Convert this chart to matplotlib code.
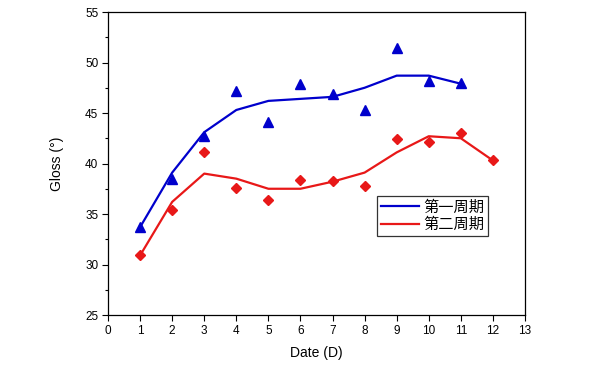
import matplotlib.pyplot as plt
from matplotlib.ticker import MultipleLocator

plt.rcParams['font.family'] = ['Liberation Sans', 'Noto Sans CJK SC', 'DejaVu Sans']

# data
days1 = [1, 2, 3, 4, 5, 6, 7, 8, 9, 10, 11]
gloss1 = [33.7, 38.5, 42.7, 47.2, 44.1, 47.9, 46.9, 45.3, 51.4, 48.2, 48.0]
fit1 = [33.7, 39.1, 43.1, 45.3, 46.2, 46.4, 46.6, 47.5, 48.7, 48.7, 47.9]

days2 = [1, 2, 3, 4, 5, 6, 7, 8, 9, 10, 11, 12]
gloss2 = [30.9, 35.4, 41.1, 37.6, 36.4, 38.4, 38.3, 37.8, 42.4, 42.1, 43.0, 40.3]
fit2 = [30.9, 36.2, 39.0, 38.5, 37.5, 37.5, 38.2, 39.1, 41.1, 42.7, 42.5, 40.3]

labels = ['第一周期', '第二周期']
blue = '#0000CC'
red = '#E81818'

fig = plt.figure(figsize=(6.11, 3.85), dpi=100)
ax = fig.add_axes([0.1768, 0.1818, 0.6824, 0.787])

ax.plot(days1, fit1, color=blue, lw=1.6, label=labels[0], zorder=2)
ax.plot(days2, fit2, color=red, lw=1.6, label=labels[1], zorder=2)
ax.plot(days1, gloss1, '^', color=blue, ms=7, zorder=3)
ax.plot(days2, gloss2, 'D', color=red, ms=5.5, zorder=3)

ax.set_xlim(0, 13)
ax.set_ylim(25, 55)
ax.xaxis.set_major_locator(MultipleLocator(1))
ax.yaxis.set_major_locator(MultipleLocator(5))
ax.yaxis.set_minor_locator(MultipleLocator(2.5))
ax.tick_params(which='major', direction='out', length=4, width=0.8, labelsize=8.5, pad=3)
ax.tick_params(which='minor', direction='out', length=2.5, width=0.8)
ax.tick_params(top=False, right=False)
for s in ax.spines.values():
    s.set_linewidth(0.9)

ax.set_xlabel('Date (D)', fontsize=10, labelpad=7)
ax.set_ylabel('Gloss (°)', fontsize=10, labelpad=15)

leg = ax.legend(loc='upper left', bbox_to_anchor=(0.645, 0.392), fontsize=11,
                frameon=True, fancybox=False, edgecolor='black', handlelength=2.5,
                handletextpad=0.3, borderpad=0.25, labelspacing=0.2, borderaxespad=0)
leg.get_frame().set_linewidth(0.9)

fig.savefig('out.png', dpi=100)
